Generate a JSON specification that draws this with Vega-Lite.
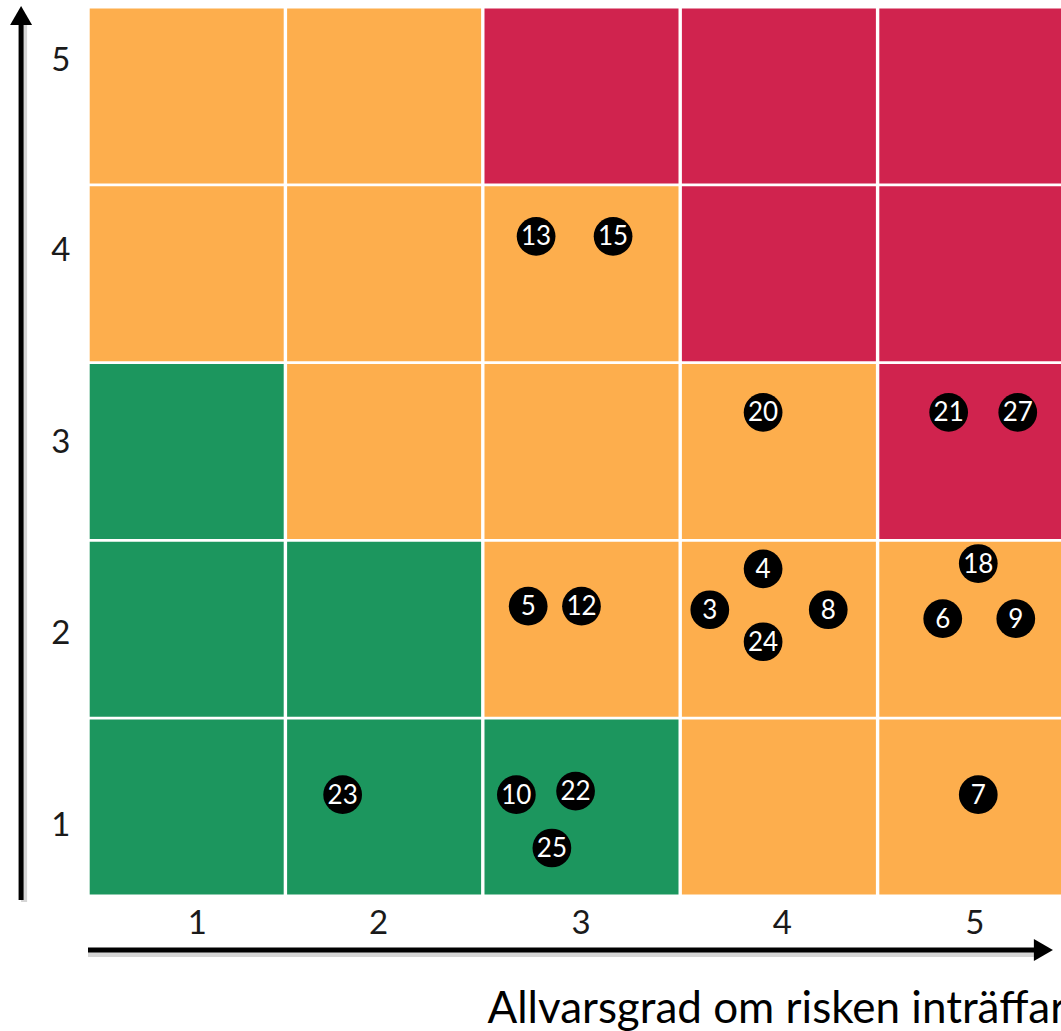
{
  "$schema": "https://vega.github.io/schema/vega-lite/v6.json",
  "width": 973,
  "height": 889,
  "autosize": {"type": "none"},
  "padding": {"left": 88, "top": 7, "right": 0, "bottom": 135},
  "background": "white",
  "config": {"view": {"stroke": null}, "font": "Lato"},
  "datasets": {
    "cells": [
      {"allvarsgrad": 1, "sannolikhet": 5, "niva": "Medel"},
      {"allvarsgrad": 2, "sannolikhet": 5, "niva": "Medel"},
      {"allvarsgrad": 3, "sannolikhet": 5, "niva": "Hög"},
      {"allvarsgrad": 4, "sannolikhet": 5, "niva": "Hög"},
      {"allvarsgrad": 5, "sannolikhet": 5, "niva": "Hög"},
      {"allvarsgrad": 1, "sannolikhet": 4, "niva": "Medel"},
      {"allvarsgrad": 2, "sannolikhet": 4, "niva": "Medel"},
      {"allvarsgrad": 3, "sannolikhet": 4, "niva": "Medel"},
      {"allvarsgrad": 4, "sannolikhet": 4, "niva": "Hög"},
      {"allvarsgrad": 5, "sannolikhet": 4, "niva": "Hög"},
      {"allvarsgrad": 1, "sannolikhet": 3, "niva": "Låg"},
      {"allvarsgrad": 2, "sannolikhet": 3, "niva": "Medel"},
      {"allvarsgrad": 3, "sannolikhet": 3, "niva": "Medel"},
      {"allvarsgrad": 4, "sannolikhet": 3, "niva": "Medel"},
      {"allvarsgrad": 5, "sannolikhet": 3, "niva": "Hög"},
      {"allvarsgrad": 1, "sannolikhet": 2, "niva": "Låg"},
      {"allvarsgrad": 2, "sannolikhet": 2, "niva": "Låg"},
      {"allvarsgrad": 3, "sannolikhet": 2, "niva": "Medel"},
      {"allvarsgrad": 4, "sannolikhet": 2, "niva": "Medel"},
      {"allvarsgrad": 5, "sannolikhet": 2, "niva": "Medel"},
      {"allvarsgrad": 1, "sannolikhet": 1, "niva": "Låg"},
      {"allvarsgrad": 2, "sannolikhet": 1, "niva": "Låg"},
      {"allvarsgrad": 3, "sannolikhet": 1, "niva": "Låg"},
      {"allvarsgrad": 4, "sannolikhet": 1, "niva": "Medel"},
      {"allvarsgrad": 5, "sannolikhet": 1, "niva": "Medel"}
    ],
    "risker": [
      {"risk": "13", "allvarsgrad": 2.77, "sannolikhet": 4.21},
      {"risk": "15", "allvarsgrad": 3.16, "sannolikhet": 4.21},
      {"risk": "20", "allvarsgrad": 3.92, "sannolikhet": 3.22},
      {"risk": "21", "allvarsgrad": 4.86, "sannolikhet": 3.22},
      {"risk": "27", "allvarsgrad": 5.21, "sannolikhet": 3.22},
      {"risk": "4", "allvarsgrad": 3.92, "sannolikhet": 2.34},
      {"risk": "18", "allvarsgrad": 5.01, "sannolikhet": 2.37},
      {"risk": "5", "allvarsgrad": 2.73, "sannolikhet": 2.13},
      {"risk": "12", "allvarsgrad": 3.0, "sannolikhet": 2.13},
      {"risk": "3", "allvarsgrad": 3.65, "sannolikhet": 2.11},
      {"risk": "8", "allvarsgrad": 4.25, "sannolikhet": 2.11},
      {"risk": "6", "allvarsgrad": 4.83, "sannolikhet": 2.06},
      {"risk": "9", "allvarsgrad": 5.2, "sannolikhet": 2.06},
      {"risk": "24", "allvarsgrad": 3.92, "sannolikhet": 1.93},
      {"risk": "23", "allvarsgrad": 1.79, "sannolikhet": 1.07},
      {"risk": "10", "allvarsgrad": 2.67, "sannolikhet": 1.07},
      {"risk": "22", "allvarsgrad": 2.97, "sannolikhet": 1.09},
      {"risk": "25", "allvarsgrad": 2.85, "sannolikhet": 0.77},
      {"risk": "7", "allvarsgrad": 5.01, "sannolikhet": 1.07}
    ]
  },
  "layer": [
    {
      "data": {"name": "cells"},
      "mark": {"type": "rect", "width": 194, "height": 175},
      "encoding": {
        "x": {
          "field": "allvarsgrad", "type": "quantitative",
          "scale": {"domain": [0.5, 5.5], "range": [0, 987], "nice": false, "zero": false},
          "axis": {
            "values": [1, 2, 3, 4, 5], "format": "d",
            "domain": false, "grid": false, "ticks": false, "tickSize": 0,
            "labelFont": "Lato", "labelFontSize": 33, "labelColor": "#1a1a1a",
            "labelBaseline": "alphabetic", "labelPadding": 37,
            "labelOffset": {"condition": [
              {"test": "datum.value == 1", "value": 10},
              {"test": "datum.value == 2", "value": -6},
              {"test": "datum.value == 4", "value": 3},
              {"test": "datum.value == 5", "value": -2}
            ], "value": -1},
            "labelFlush": false, "labelOverlap": false,
            "title": "Allvarsgrad om risken inträffar",
            "titleFont": "Lato", "titleFontSize": 44, "titleFontWeight": "normal",
            "titleColor": "#000", "titleAnchor": "start", "titleAlign": "left",
            "titleBaseline": "alphabetic", "titleX": 399, "titleY": 126
          }
        },
        "y": {
          "field": "sannolikhet", "type": "quantitative",
          "scale": {"domain": [0.5, 5.5], "nice": false, "zero": false},
          "axis": {
            "values": [1, 2, 3, 4, 5], "format": "d",
            "domain": false, "grid": false, "ticks": false, "tickSize": 0,
            "labelFont": "Lato", "labelFontSize": 33, "labelColor": "#1a1a1a",
            "labelPadding": 18, "labelBaseline": "middle",
            "labelOffset": {"condition": [
              {"test": "datum.value == 5", "value": -35},
              {"test": "datum.value == 4", "value": -23},
              {"test": "datum.value == 3", "value": -9},
              {"test": "datum.value == 2", "value": 4}
            ], "value": 18},
            "labelFlush": false, "labelOverlap": false,
            "title": null
          }
        },
        "color": {
          "field": "niva", "type": "nominal",
          "scale": {"domain": ["Låg", "Medel", "Hög"], "range": ["#1C965E", "#FDAE4D", "#D0234E"]},
          "legend": null
        }
      }
    },
    {
      "data": {"values": [{}]},
      "mark": {"type": "rule", "color": "#888888", "opacity": 0.35, "strokeWidth": 6, "xOffset": 3, "yOffset": 2},
      "encoding": {
        "x": {"datum": 0.161, "type": "quantitative", "scale": {"domain": [0.5, 5.5], "range": [0, 987], "nice": false, "zero": false}},
        "y": {"datum": 0.477, "type": "quantitative", "scale": {"domain": [0.5, 5.5], "nice": false, "zero": false}},
        "y2": {"datum": 5.4}
      }
    },
    {
      "data": {"values": [{}]},
      "mark": {"type": "rule", "color": "#888888", "opacity": 0.35, "strokeWidth": 6, "yOffset": 4},
      "encoding": {
        "x": {"datum": 0.5, "type": "quantitative", "scale": {"domain": [0.5, 5.5], "range": [0, 987], "nice": false, "zero": false}},
        "x2": {"datum": 5.3},
        "y": {"datum": 0.196, "type": "quantitative", "scale": {"domain": [0.5, 5.5], "nice": false, "zero": false}}
      }
    },
    {
      "data": {"values": [{}]},
      "mark": {"type": "rule", "color": "black", "strokeWidth": 5},
      "encoding": {
        "x": {"datum": 0.161, "type": "quantitative", "scale": {"domain": [0.5, 5.5], "range": [0, 987], "nice": false, "zero": false}},
        "y": {"datum": 0.477, "type": "quantitative", "scale": {"domain": [0.5, 5.5], "nice": false, "zero": false}},
        "y2": {"datum": 5.4}
      }
    },
    {
      "data": {"values": [{}]},
      "mark": {"type": "point", "shape": "triangle-up", "filled": true, "color": "black", "opacity": 1, "size": 484, "strokeWidth": 0},
      "encoding": {
        "x": {"datum": 0.161, "type": "quantitative", "scale": {"domain": [0.5, 5.5], "range": [0, 987], "nice": false, "zero": false}},
        "y": {"datum": 5.452, "type": "quantitative", "scale": {"domain": [0.5, 5.5], "nice": false, "zero": false}}
      }
    },
    {
      "data": {"values": [{}]},
      "mark": {"type": "rule", "color": "black", "strokeWidth": 5},
      "encoding": {
        "x": {"datum": 0.5, "type": "quantitative", "scale": {"domain": [0.5, 5.5], "range": [0, 987], "nice": false, "zero": false}},
        "x2": {"datum": 5.3},
        "y": {"datum": 0.196, "type": "quantitative", "scale": {"domain": [0.5, 5.5], "nice": false, "zero": false}}
      }
    },
    {
      "data": {"values": [{}]},
      "mark": {"type": "point", "shape": "triangle-right", "filled": true, "color": "black", "opacity": 1, "size": 484, "strokeWidth": 0},
      "encoding": {
        "x": {"datum": 5.34, "type": "quantitative", "scale": {"domain": [0.5, 5.5], "range": [0, 987], "nice": false, "zero": false}},
        "y": {"datum": 0.196, "type": "quantitative", "scale": {"domain": [0.5, 5.5], "nice": false, "zero": false}}
      }
    },
    {
      "data": {"name": "risker"},
      "mark": {"type": "point", "shape": "circle", "filled": true, "color": "black", "opacity": 1, "size": 1500, "strokeWidth": 0},
      "encoding": {
        "x": {"field": "allvarsgrad", "type": "quantitative", "scale": {"domain": [0.5, 5.5], "range": [0, 987], "nice": false, "zero": false}},
        "y": {"field": "sannolikhet", "type": "quantitative", "scale": {"domain": [0.5, 5.5], "nice": false, "zero": false}}
      }
    },
    {
      "data": {"name": "risker"},
      "mark": {"type": "text", "color": "white", "font": "Lato", "fontSize": 26, "baseline": "middle", "align": "center", "dy": 1},
      "encoding": {
        "x": {"field": "allvarsgrad", "type": "quantitative", "scale": {"domain": [0.5, 5.5], "range": [0, 987], "nice": false, "zero": false}},
        "y": {"field": "sannolikhet", "type": "quantitative", "scale": {"domain": [0.5, 5.5], "nice": false, "zero": false}},
        "text": {"field": "risk", "type": "nominal"}
      }
    }
  ]
}
